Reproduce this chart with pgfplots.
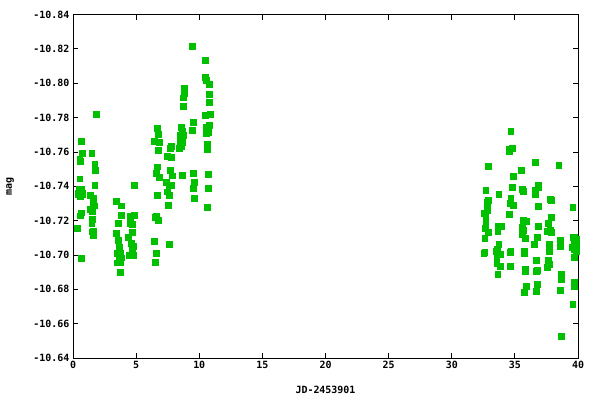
\documentclass[border=0pt]{standalone}
\usepackage{fontspec}
\setmainfont{DejaVu Sans Mono}
\usepackage{pgfplots}
\pgfplotsset{compat=1.18}
\definecolor{gpgreen}{RGB}{0,192,0}
\begin{document}
\begin{tikzpicture}
\useasboundingbox (-73bp,-42bp) rectangle (527bp,358bp);
\begin{axis}[
 scale only axis, width=505bp, height=343.5bp,
 at={(0,0)}, anchor=south west,
 xmin=0, xmax=40, ymin=-10.84, ymax=-10.64, y dir=reverse,
 xtick={0,5,10,15,20,25,30,35,40},
 ytick={-10.84,-10.82,-10.80,-10.78,-10.76,-10.74,-10.72,-10.70,-10.68,-10.66,-10.64},
 yticklabel style={/pgf/number format/.cd,fixed,fixed zerofill,precision=2},
 /pgf/number format/assume math mode=true,
 tick align=inside, major tick length=5bp,
 tick style={black, line width=0.8bp},
 axis line style={black, line width=0.8bp},
 ticklabel style={font=\fontsize{10}{12}\selectfont\bfseries},
 xlabel={JD-2453901},
 every axis x label/.style={at={(axis description cs:0.5,-0.093)}, anchor=center, font=\fontsize{10}{12}\selectfont\bfseries},
]
\addplot[only marks, mark=square*, mark size=2.9bp, mark options={draw=gpgreen, fill=gpgreen, line width=0pt}, color=gpgreen] table {
x y
0.35 -10.7155
0.70 -10.6980
0.50 -10.7380
0.40 -10.7360
0.45 -10.7350
0.75 -10.7360
0.75 -10.7350
0.70 -10.7380
0.60 -10.7340
0.60 -10.7227
0.70 -10.7244
0.55 -10.7559
0.60 -10.7543
0.55 -10.7442
0.70 -10.7662
0.75 -10.7592
1.50 -10.7592
1.85 -10.7819
1.75 -10.7528
1.80 -10.7493
1.75 -10.7406
1.40 -10.7347
1.65 -10.7330
1.40 -10.7266
1.55 -10.7252
1.60 -10.7291
1.75 -10.7285
1.55 -10.7208
1.50 -10.7184
1.50 -10.7134
1.60 -10.7138
1.65 -10.7114
3.44 -10.7312
3.83 -10.7285
3.83 -10.7231
3.60 -10.7184
3.44 -10.7126
3.60 -10.7085
3.67 -10.7045
3.67 -10.7029
3.52 -10.7010
3.76 -10.7010
3.83 -10.6982
3.67 -10.6970
3.52 -10.6953
3.76 -10.6957
3.76 -10.6899
4.58 -10.7222
4.90 -10.7231
4.58 -10.7184
4.74 -10.7176
4.74 -10.7132
4.39 -10.7103
4.63 -10.7068
4.79 -10.7050
4.74 -10.7025
4.47 -10.6998
4.79 -10.6998
4.90 -10.7406
6.69 -10.7735
6.77 -10.7702
6.45 -10.7662
6.85 -10.7656
6.77 -10.7609
6.69 -10.7512
6.61 -10.7475
6.85 -10.7452
6.69 -10.7347
6.61 -10.7222
6.53 -10.7217
6.77 -10.7202
6.45 -10.7080
6.61 -10.7010
6.53 -10.6957
7.48 -10.7574
7.82 -10.7569
7.72 -10.7621
7.83 -10.7630
7.72 -10.7493
7.88 -10.7460
7.40 -10.7423
7.64 -10.7406
7.80 -10.7406
7.48 -10.7367
7.64 -10.7347
7.56 -10.7289
7.64 -10.7062
8.60 -10.7743
8.67 -10.7722
8.51 -10.7697
8.75 -10.7697
8.51 -10.7660
8.67 -10.7656
8.60 -10.7633
8.43 -10.7621
8.67 -10.7464
8.83 -10.7968
8.83 -10.7953
8.83 -10.7937
8.75 -10.7914
8.75 -10.7865
9.47 -10.8215
9.55 -10.7772
9.47 -10.7728
9.47 -10.7722
9.55 -10.7475
9.63 -10.7423
9.55 -10.7388
9.63 -10.7330
10.50 -10.8133
10.50 -10.8034
10.60 -10.8015
10.82 -10.7994
10.82 -10.7935
10.82 -10.7889
10.50 -10.7813
10.90 -10.7819
10.58 -10.7743
10.74 -10.7735
10.82 -10.7755
10.60 -10.7708
10.74 -10.7712
10.66 -10.7646
10.66 -10.7630
10.66 -10.7615
10.74 -10.7470
10.74 -10.7388
10.66 -10.7277
32.88 -10.7516
32.72 -10.7376
32.88 -10.7318
32.80 -10.7307
32.80 -10.7272
32.80 -10.7260
32.56 -10.7243
32.72 -10.7237
32.72 -10.7202
32.72 -10.7161
32.64 -10.7155
32.88 -10.7132
32.64 -10.7097
32.56 -10.7010
32.64 -10.7016
33.75 -10.7353
33.67 -10.7167
33.91 -10.7167
33.67 -10.7138
33.75 -10.7062
33.59 -10.7033
33.51 -10.7021
33.67 -10.7021
33.75 -10.7004
33.83 -10.7004
33.59 -10.6992
33.59 -10.6951
33.83 -10.6934
33.67 -10.6887
34.70 -10.7720
34.55 -10.7615
34.79 -10.7621
34.55 -10.7603
34.87 -10.7458
34.79 -10.7394
34.70 -10.7330
34.63 -10.7301
34.87 -10.7289
34.55 -10.7237
34.70 -10.7021
34.63 -10.7016
34.63 -10.6934
35.50 -10.7493
35.58 -10.7382
35.66 -10.7371
35.66 -10.7202
35.90 -10.7196
35.58 -10.7161
35.66 -10.7144
35.58 -10.7120
35.82 -10.7097
35.74 -10.7021
35.74 -10.7010
35.82 -10.6916
35.82 -10.6905
35.90 -10.6817
35.74 -10.6783
36.61 -10.7540
36.85 -10.7406
36.85 -10.7394
36.61 -10.7376
36.61 -10.7353
36.85 -10.7283
36.85 -10.7167
36.77 -10.7103
36.53 -10.7062
36.69 -10.6969
36.77 -10.6911
36.69 -10.6905
36.77 -10.6829
36.69 -10.6788
38.50 -10.7522
37.80 -10.7324
37.88 -10.7318
37.88 -10.7219
37.64 -10.7184
37.56 -10.7138
37.80 -10.7144
37.88 -10.7132
37.72 -10.7062
37.72 -10.7021
37.64 -10.6969
37.72 -10.6946
37.56 -10.6928
38.60 -10.7085
38.60 -10.7050
38.67 -10.6887
38.67 -10.6870
38.67 -10.6858
38.60 -10.6794
38.67 -10.6526
39.60 -10.7277
39.60 -10.7100
39.75 -10.7100
39.85 -10.7090
39.75 -10.7080
39.85 -10.7060
39.75 -10.7050
39.85 -10.7033
39.55 -10.7044
39.70 -10.7033
39.85 -10.7020
39.70 -10.6986
39.70 -10.6843
39.70 -10.6829
39.70 -10.6817
39.60 -10.6713
};
\end{axis}
\node[rotate=90, anchor=center, font=\fontsize{10}{12}\selectfont\bfseries] at (-63bp,171.75bp) {mag};
\end{tikzpicture}
\end{document}
